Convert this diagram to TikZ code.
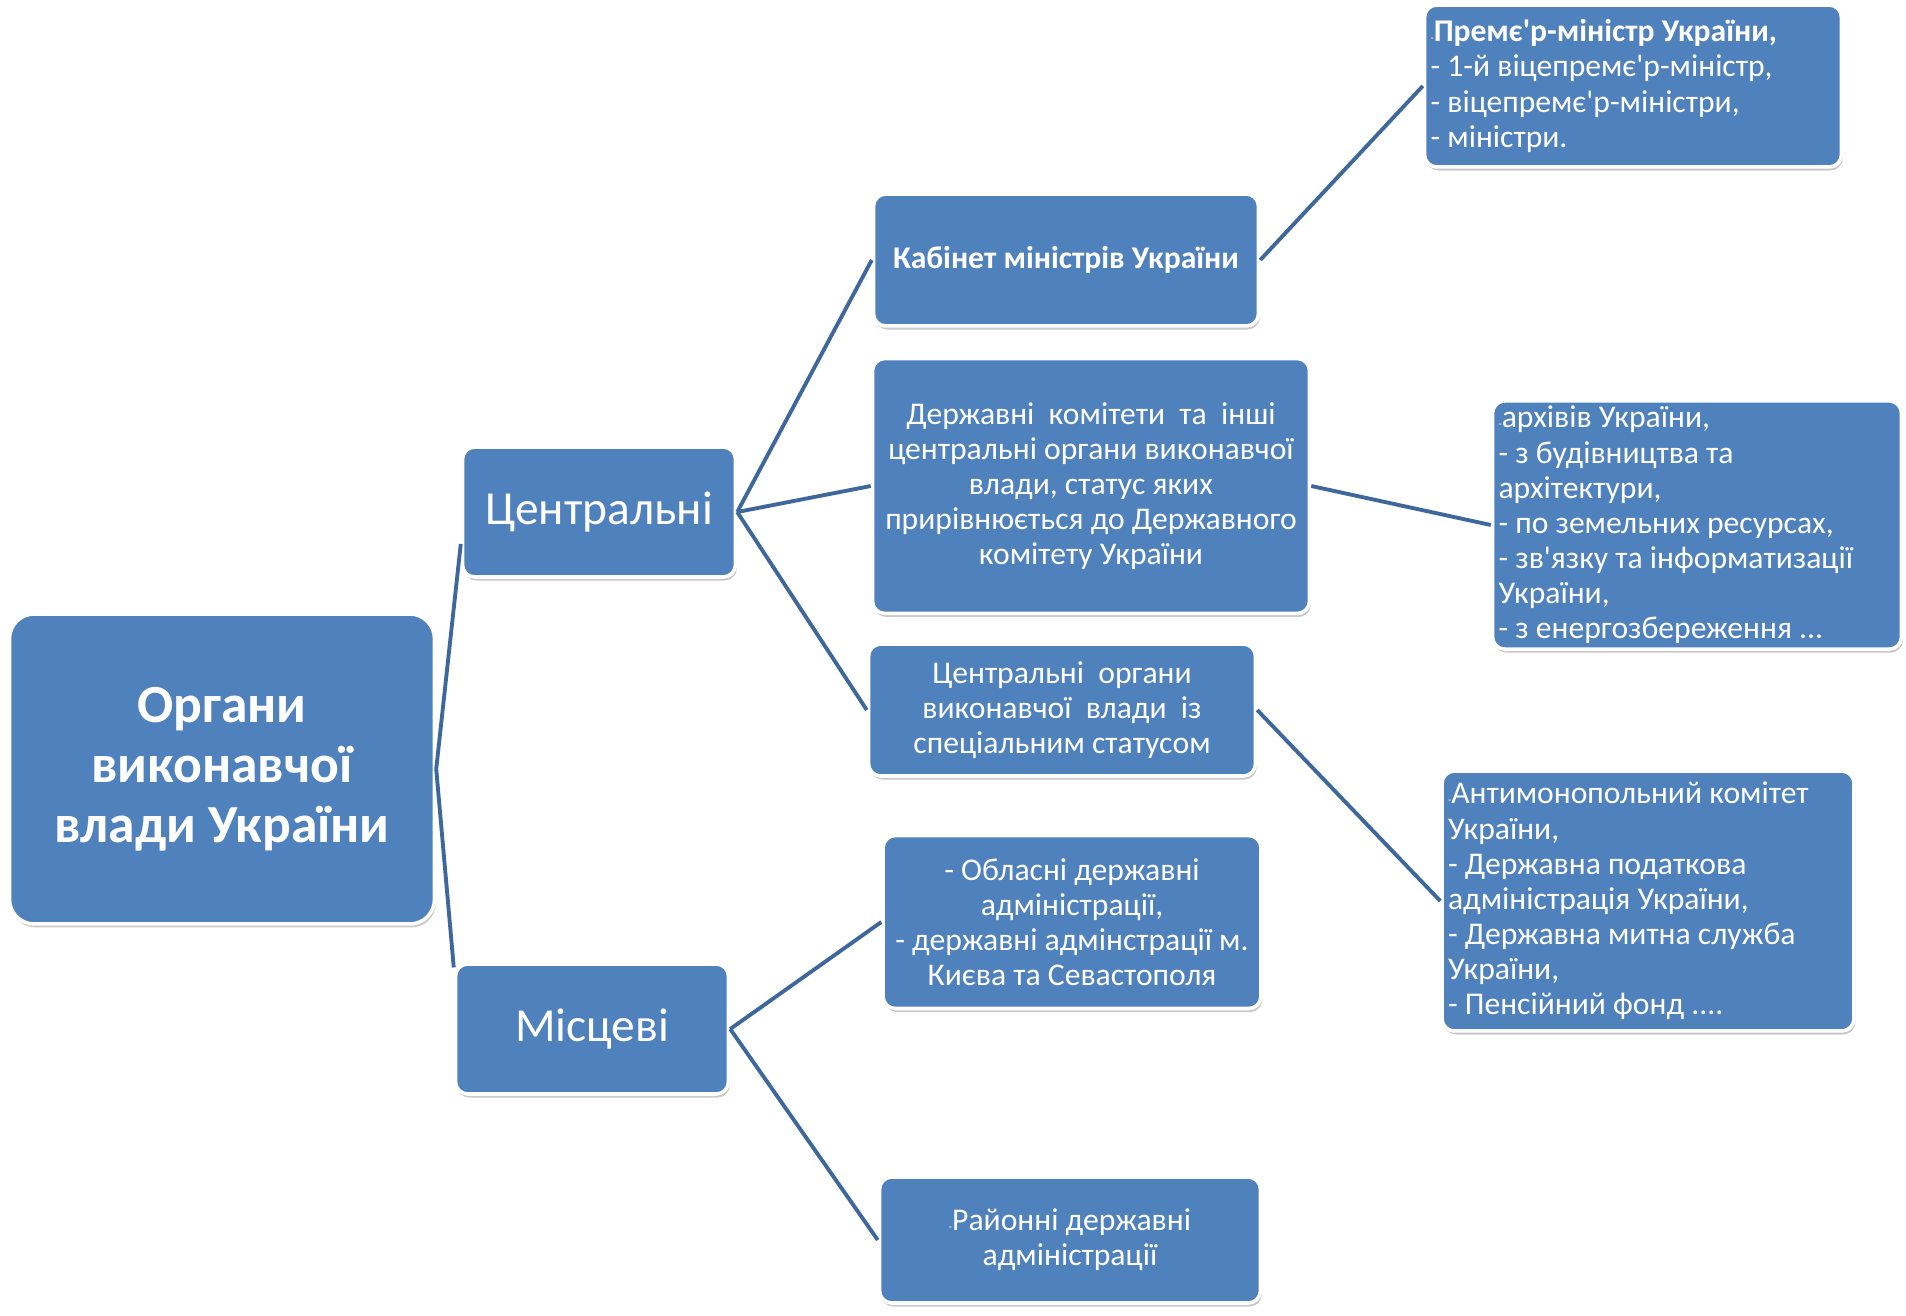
\documentclass[tikz,border=0pt]{standalone}
\usepackage{fontspec}
\setmainfont{Carlito}
\usetikzlibrary{positioning,shadows}
\definecolor{boxblue}{RGB}{79,129,189}
\definecolor{lineblue}{RGB}{62,104,156}

\begin{document}
\begin{tikzpicture}[x=0.02cm,y=-0.02cm]
            \tikzset{box/.style={rectangle,rounded corners=7pt,fill=boxblue,draw=white,line width=2pt,text=white,
                inner sep=3pt,align=center,font=\fontsize{18}{20}\selectfont,
                drop shadow={shadow xshift=0.8pt,shadow yshift=-2pt,opacity=0.3,fill=black!70}}}
            \tikzset{list/.style={box,align=flush left}}
            \tikzset{link/.style={draw=lineblue,line width=2.2pt}}

            \useasboundingbox (0,0) rectangle (1906,1315);

            \node[box,rounded corners=14pt,minimum width=8.5cm,minimum height=6.2cm,
                font=\fontsize{30.5}{34}\selectfont\bfseries] (organy) at (222,769) {Органи\\виконавчої\\влади України};

            \node[box,minimum width=5.46cm,minimum height=2.6cm,font=\fontsize{27}{32}\selectfont] (centr) at (599,512) {Центральні};
            \node[box,minimum width=5.46cm,minimum height=2.6cm,font=\fontsize{27}{32}\selectfont] (misc) at (592,1029) {Місцеві};

            \node[box,minimum width=7.7cm,minimum height=2.64cm,font=\fontsize{18}{20}\selectfont\bfseries] (kabmin) at (1066,260) {Кабінет міністрів України};
            \node[box,minimum width=8.74cm,minimum height=5.1cm] (derzh) at (1091,486)
                {Державні\ \ комітети\ \ та\ \ інші\\центральні органи виконавчої\\влади, статус яких\\прирівнюється до Державного\\комітету України};
            \node[box,minimum width=7.74cm,minimum height=2.64cm] (spec) at (1062,710)
                {Центральні\ \ органи\\виконавчої\ \ влади\ \ із\\спеціальним статусом};
            \node[box,minimum width=7.56cm,minimum height=3.46cm] (obl) at (1072,922)
                {- Обласні державні\\адміністрації,\\- державні адмінстрації м.\\Києва та Севастополя};
            \node[box,minimum width=7.62cm,minimum height=2.52cm] (rai) at (1070,1240)
                {{\fontsize{6}{6}\selectfont -}Районні державні\\адміністрації};

            \node[list,minimum width=8.34cm,minimum height=3.24cm,text width=8.1cm] (prem) at (1633,86)
                {{\fontsize{6}{6}\selectfont -}\textbf{Премє\textquotesingle р-міністр України,}\\- 1-й віцепремє\textquotesingle р-міністр,\\- віцепремє\textquotesingle р-міністри,\\- міністри.};
            \node[list,minimum width=8.18cm,minimum height=4.74cm,text width=7.94cm] (arch) at (1697,525)
                {{\fontsize{6}{6}\selectfont -}архівів України,\\- з будівництва та\\архітектури,\\- по земельних ресурсах,\\- зв\textquotesingle язку та інформатизації\\України,\\- з енергозбереження ...};
            \node[list,minimum width=8.24cm,minimum height=5.2cm,text width=8cm] (anti) at (1648,901)
                {{\fontsize{6}{6}\selectfont -}Антимонопольний комітет\\України,\\- Державна податкова\\адміністрація України,\\- Державна митна служба\\України,\\- Пенсійний фонд ....};

            % connectors
            \draw[link] (organy.east) -- (centr.193);
            \draw[link] (organy.east) -- (misc.156);

            \draw[link] (centr.east) -- (kabmin.west);
            \draw[link] (centr.east) -- (derzh.west);
            \draw[link] (centr.east) -- (spec.west);

            \draw[link] (misc.east) -- (obl.west);
            \draw[link] (misc.east) -- (rai.west);

            \draw[link] (kabmin.east) -- (prem.west);
            \draw[link] (derzh.east) -- (arch.west);
            \draw[link] (spec.east) -- (anti.west);

        \end{tikzpicture}
\end{document}
